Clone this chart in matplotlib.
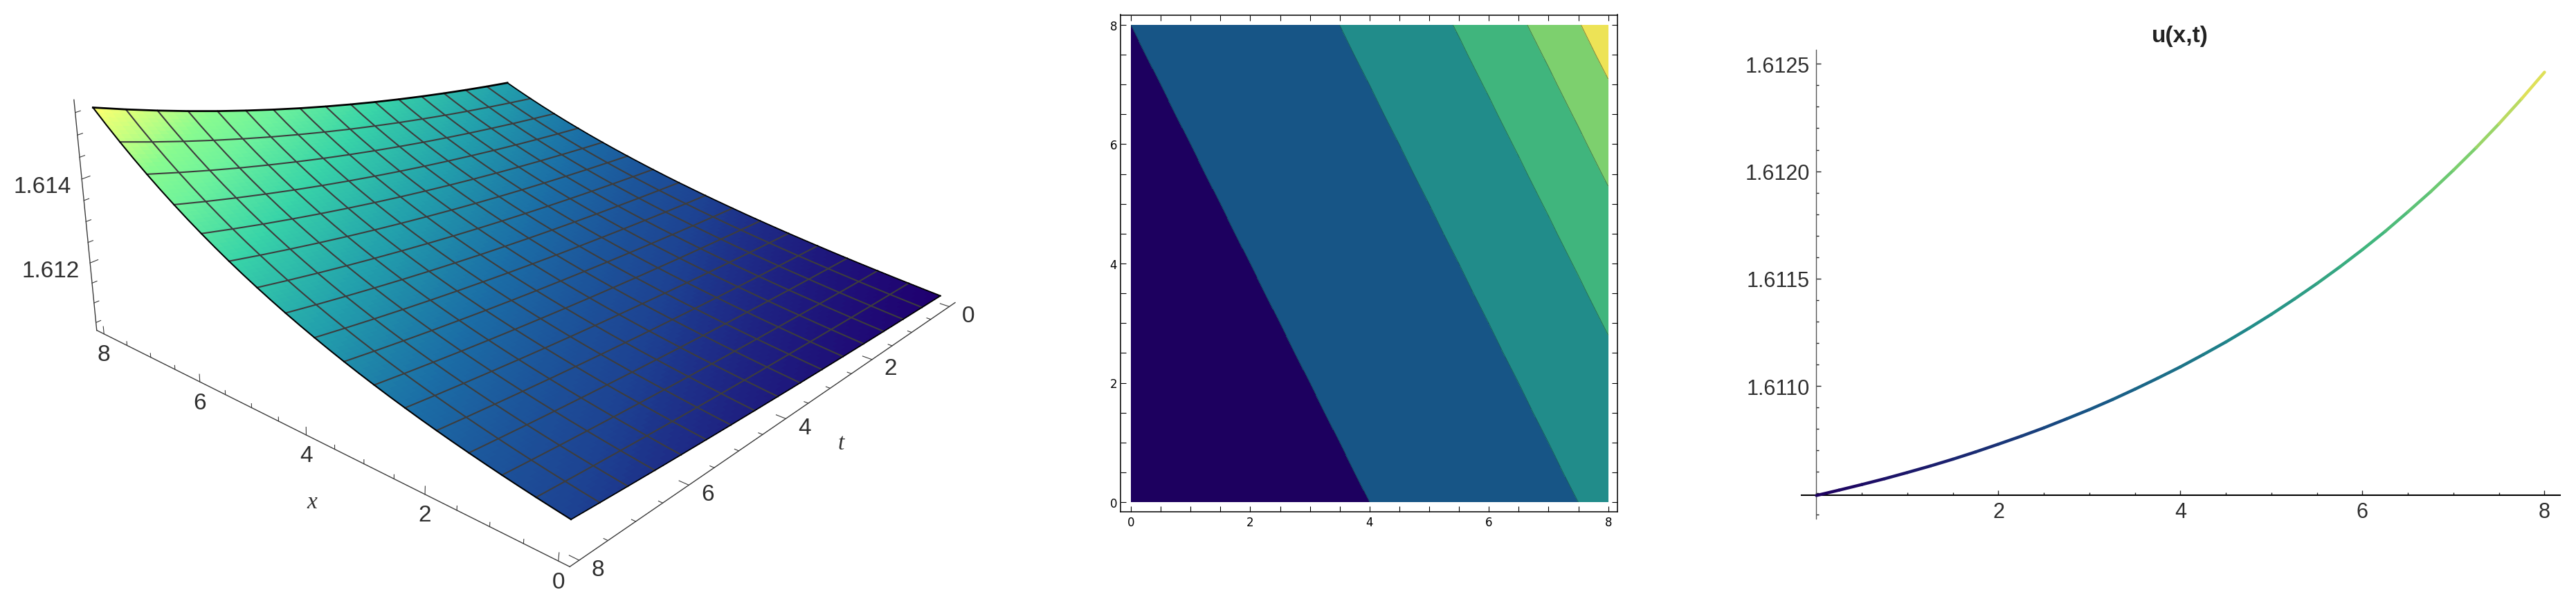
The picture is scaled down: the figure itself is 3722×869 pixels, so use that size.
import numpy as np
import matplotlib
matplotlib.use("Agg")
import matplotlib.pyplot as plt
from matplotlib.colors import LinearSegmentedColormap
from matplotlib.collections import LineCollection
from matplotlib.ticker import MultipleLocator, FixedLocator, FuncFormatter

W, H = 3723, 870

u_profile = np.array([
    1.610490, 1.610515, 1.610541, 1.610568, 1.610597, 1.610627, 1.610659, 1.610693,
    1.610729, 1.610766, 1.610805, 1.610847, 1.610890, 1.610936, 1.610985, 1.611036,
    1.611089, 1.611146, 1.611205, 1.611268, 1.611334, 1.611404, 1.611477, 1.611554,
    1.611635, 1.611720, 1.611811, 1.611905, 1.612005, 1.612110, 1.612221, 1.612338,
    1.612461, 1.612590, 1.612726, 1.612870, 1.613021, 1.613180, 1.613347, 1.613524,
    1.613710, 1.613905, 1.614112, 1.614329, 1.614557, 1.614798, 1.615051, 1.615318,
    1.615599])
x_values = np.arange(33) * 0.25          # 0 .. 8
t_values = np.arange(17) * 0.5           # 0 .. 8
contour_levels = [1.61109, 1.61222, 1.61328, 1.61424, 1.61510]
contour_colors = ['#1d005f', '#175586', '#218c8a', '#40b57d', '#7dd06e', '#ede356']
line_colors = contour_colors
surface_colors = [(0, '#1f0070'), (.117, '#1d4292'), (.25, '#1b6ea6'), (.385, '#22a0ac'),
                  (.55, '#38d4a8'), (.7, '#6ef29c'), (.8, '#88fb90'), (.9, '#c8ff80'), (1, '#ffff6e')]
z_major = [1.612, 1.614]
z_ticks = [1.6105 + 0.0005 * k for k in range(11)]
xy_ticks = [0.5 * k for k in range(17)]
major_ticks = [0, 2, 4, 6, 8]
x_box = (-0.16, 8.16)
t_box = (-0.16, 8.16)
z_box = (1.61030, 1.61578)
line_major_y = [1.611, 1.6115, 1.612, 1.6125]
line_minor_y = [1.6104 + k * .0001 for k in range(22)]

plt.rcParams['font.family'] = ['Liberation Sans', 'DejaVu Sans']
fig = plt.figure(figsize=(W / 100, H / 100), dpi=100, facecolor='white')


def frect(l, t, r, b):
    return [l / W, 1 - b / H, (r - l) / W, (b - t) / H]


def ftext(x, y, s, **kw):
    kw.setdefault('ha', 'center')
    kw.setdefault('va', 'center')
    return fig.text(x / W, 1 - y / H, s, **kw)


# ---- camera: the reference's perspective, calibrated on box and surface corners
calib = [
    ((x_box[1], t_box[1], z_box[0]), (139, 479)),
    ((x_box[0], t_box[1], z_box[0]), (825, 817)),
    ((x_box[0], t_box[0], z_box[0]), (1380, 437)),
    ((x_box[1], t_box[1], z_box[1]), (107, 148)),
    ((x_box[1], t_box[1], 1.614), (118.4, 258.3)),
    ((x_box[1], t_box[1], 1.612), (131, 381.7)),
    ((8, 8, u_profile[48]), (134, 154)),
    ((8, 0, u_profile[32]), (733, 121)),
    ((0, 0, u_profile[0]), (1359, 430)),
    ((0, 8, u_profile[16]), (823, 756)),
]
Tw = np.array([[1 / 8, 0, 0, 0], [0, 1 / 8, 0, 0], [0, 0, 1 / .003, -1.613 / .003], [0, 0, 0, 1]])
Tp = np.array([[1 / 700, 0, -1], [0, 1 / 700, -450 / 700], [0, 0, 1]])
rows = []
for (wp, pp) in calib:
    a = Tw @ np.array([*wp, 1.0])
    b = Tp @ np.array([pp[0], H - pp[1], 1.0])
    rows.append(np.r_[a, 0 * a, -b[0] * a])
    rows.append(np.r_[0 * a, a, -b[1] * a])
Pn = np.linalg.svd(np.array(rows))[2][-1].reshape(3, 4)
P = np.linalg.inv(Tp) @ Pn @ Tw
if P[2] @ np.array([4, 4, 1.613, 1]) < 0:
    P = -P


def to_px(x, t, z):
    v = P @ np.array([x, t, z, 1.0])
    return v[0] / v[2], H - v[1] / v[2]


# ---- panel 1: surface
S = 1420
ax3 = fig.add_axes([0, (H - S) / 2 / H, S / W, S / H], projection='3d', computed_zorder=False)
ax3.set_axis_off()
ax3.patch.set_visible(False)
ax3.set_proj_type('ortho')   # switches off mplot3d's view clipping; the camera below does the projecting


def camera():
    inv = ax3.transData.inverted()
    v0 = inv.transform((0, 0))
    v1 = inv.transform((1, 1))
    sx, sy = v1 - v0
    return np.array([sx * P[0] + v0[0] * P[2], sy * P[1] + v0[1] * P[2], [0, 0, 1, 0], P[2]])


ax3.get_proj = camera

X, T = np.meshgrid(x_values, t_values)
I, J = np.meshgrid(np.arange(33), np.arange(17))
Z = u_profile[I + J]
umin, umax = u_profile[0], u_profile[-1]
scm = LinearSegmentedColormap.from_list('surf', surface_colors)
# shading facets: each mesh cell subdivided so the colour runs smoothly, as in the reference
s_table = np.arange(49) * 0.25
xf = np.arange(129) * 0.0625
tf = np.arange(65) * 0.125
Xf, Tf = np.meshgrid(xf, tf)
Zf = np.interp(Xf + Tf / 2, s_table, u_profile)
facet = (Zf[:-1, :-1] + Zf[1:, :-1] + Zf[:-1, 1:] + Zf[1:, 1:]) / 4
ax3.plot_surface(Xf, Tf, Zf, rstride=1, cstride=1, facecolors=scm((facet - umin) / (umax - umin)),
                 shade=False, linewidth=0, antialiased=False, zorder=1)
mesh_c = '#3d3d3d'
for j in range(1, 16):
    ax3.plot(x_values, np.full(33, t_values[j]), Z[j, :], color=mesh_c, lw=1.5, zorder=2)
for i in range(2, 32, 2):
    ax3.plot(np.full(17, x_values[i]), t_values, Z[:, i], color=mesh_c, lw=1.5, zorder=2)
ax3.plot(x_values, np.full(33, 0.0), Z[0, :], color='black', lw=1.3, zorder=3)
ax3.plot(np.full(17, 8.0), t_values, Z[:, 32], color='black', lw=2.0, zorder=3)
ax3.plot(np.full(17, 0.0), t_values, Z[:, 0], color='black', lw=1.3, zorder=3)
ax3.plot(x_values, np.full(33, 8.0), Z[16, :], color='black', lw=1.5, zorder=3)

axc = '#3a3a3a'
ax3.plot([x_box[1], x_box[0]], [t_box[1]] * 2, [z_box[0]] * 2, color=axc, lw=1, zorder=0)
ax3.plot([x_box[0]] * 2, [t_box[1], t_box[0]], [z_box[0]] * 2, color=axc, lw=1, zorder=0)
ax3.plot([x_box[1]] * 2, [t_box[1]] * 2, list(z_box), color=axc, lw=1, zorder=0)
for v in xy_ticks:
    big = v in major_ticks
    ax3.plot([v, v], [t_box[1]] * 2, [z_box[0], z_box[0] + (.00019 if big else .0001)], color=axc, lw=.8, zorder=0)
    ax3.plot([x_box[0], x_box[0] + (.14 if big else .06)], [v, v], [z_box[0]] * 2, color=axc, lw=.8, zorder=0)
for v in z_ticks:
    big = any(abs(v - m) < 1e-6 for m in z_major)
    ax3.plot([x_box[1]] * 2, [t_box[1], t_box[1] - (.13 if big else .08)], [v, v], color=axc, lw=.8, zorder=0)

lab = dict(color='#2e2e2e', fontsize=24)
for v in major_ticks:
    px, py = to_px(v, t_box[1], z_box[0])
    ftext(px, py + 30, str(v), **lab)
    px, py = to_px(x_box[0], v, z_box[0])
    ftext(px + 27, py + 13, str(v), **lab)
for v in z_major:
    px, py = to_px(x_box[1], t_box[1], v)
    ftext(px - 57, py + 11, f'{v:.3f}', **lab)
ftext(451, 727, 'x', family='Liberation Serif', style='italic', color='#333333', fontsize=24)
ftext(1215, 642, 't', family='Liberation Serif', style='italic', color='#333333', fontsize=24)

# ---- panel 2: contour
ax2 = fig.add_axes(frect(1619.5, 22.5, 2337.5, 741))
xg = x_values[::2]
tg = t_values
I2, J2 = np.meshgrid(np.arange(17), np.arange(17))
Z2 = u_profile[2 * I2 + J2]
ax2.contourf(xg, tg, Z2, levels=[umin - 1e-6] + contour_levels + [umax + 1e-6], colors=contour_colors)
ax2.contour(xg, tg, Z2, levels=contour_levels, colors='#103030', linewidths=.6, alpha=.6)
xs2 = (2323.7 - 1634) / 8
ys2 = (727 - 37) / 8
ax2.set_xlim((1619.5 - 1634) / xs2, (2337.5 - 1634) / xs2)
ax2.set_ylim((727 - 741) / ys2, (727 - 22.5) / ys2)
ax2.xaxis.set_major_locator(MultipleLocator(2))
ax2.yaxis.set_major_locator(MultipleLocator(2))
ax2.xaxis.set_minor_locator(MultipleLocator(.5))
ax2.yaxis.set_minor_locator(MultipleLocator(.5))
ax2.tick_params(which='both', direction='in', top=True, right=True, width=.8, color='black', length=5.8)
ax2.tick_params(which='major', labelsize=12, pad=4)
ax2.tick_params(axis='y', which='major', pad=4)
for lb in ax2.get_xticklabels() + ax2.get_yticklabels():
    lb.set_family('DejaVu Sans')
for s in ax2.spines.values():
    s.set_linewidth(1.1)

# ---- panel 3: curve
ax = fig.add_axes(frect(2603, 73, 3699, 751))
ax.patch.set_visible(False)
xpp = 131.5
ypp = 310500.0
ax.set_xlim((2603 - 2624.5) / xpp, (3699 - 2624.5) / xpp)
ax.set_ylim(1.6125 - (751 - 93.3) / ypp, 1.6125 + (93.3 - 73) / ypp)
curve_x = x_values
curve_u = u_profile[:33]
lcm = LinearSegmentedColormap.from_list('ln', line_colors)
pts = np.column_stack([curve_x, curve_u])
segs = np.stack([pts[:-1], pts[1:]], axis=1)
frac = ((curve_u[:-1] + curve_u[1:]) / 2 - curve_u[0]) / (curve_u[-1] - curve_u[0])
ax.add_collection(LineCollection(segs, colors=lcm(frac), linewidths=3.2, capstyle='round', zorder=5))
for s in ['top', 'right']:
    ax.spines[s].set_visible(False)
ax.spines['left'].set_position(('data', 0))
ax.spines['bottom'].set_position(('data', curve_u[0]))
ax.spines['left'].set_linewidth(1.0)
ax.spines['left'].set_color('#555555')
ax.spines['bottom'].set_linewidth(1.5)
ax.xaxis.set_major_locator(FixedLocator([2, 4, 6, 8]))
ax.xaxis.set_minor_locator(MultipleLocator(.5))
ax.yaxis.set_major_locator(FixedLocator(line_major_y))
ax.yaxis.set_minor_locator(FixedLocator(line_minor_y))
ax.yaxis.set_major_formatter(FuncFormatter(lambda v, p: f'{v:.4f}'))
ax.tick_params(which='both', direction='in', width=1.0, color='#222222', labelcolor='#2e2e2e')
ax.tick_params(which='major', length=5, labelsize=22, pad=7)
ax.tick_params(axis='x', which='major', pad=6)
ax.tick_params(which='minor', length=3)
ftext(3150, 53, 'u(x,t)', fontweight='bold', fontsize=24, color='#222222')

fig.savefig('out.png', dpi=100, facecolor='white')
